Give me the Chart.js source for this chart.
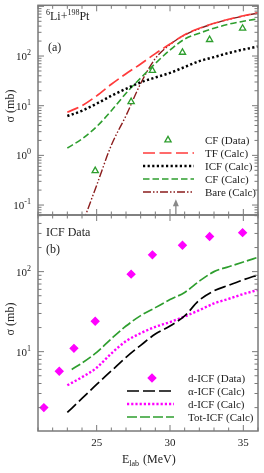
<!DOCTYPE html>
<html>
<head>
<meta charset="utf-8">
<script src="https://cdn.jsdelivr.net/npm/chart.js@4.4.1/dist/chart.umd.min.js"></script>
<style>
  html, body { margin: 0; padding: 0; background: #fff; }
  #wrap { position: relative; width: 264px; height: 473px; }
  canvas { position: absolute; left: 0; top: 0; }
</style>
</head>
<body>
<div id="wrap">
  <canvas id="topChart" width="264" height="473"></canvas>
  <canvas id="botChart" width="264" height="473"></canvas>
</div>
<script>
// energies (MeV) and cross sections (mb)
const eCalc = [23, 24, 25, 26, 27, 28, 29, 30, 31, 32, 33, 34, 35, 36];
const tfCalc = [7.4, 10, 15.8, 27, 44, 69, 112, 174, 269, 363, 457, 550, 646, 741];
const icfCalc = [6.2, 7.9, 11, 15.8, 21.9, 29.5, 37, 45.7, 60, 79, 95, 115, 135, 155];
const cfCalc = [1.41, 2.14, 3.8, 7.9, 17.8, 36, 71, 132, 219, 288, 363, 437, 501, 562];

const eBare = [24, 25, 26, 27, 28, 29, 30, 31, 32, 33, 34, 35, 36];
const bareCalc = [0.04, 0.25, 1.6, 6.3, 28, 89, 170, 265, 355, 450, 545, 640, 735];

const eCF = [24.9, 27.35, 28.8, 30.85, 32.7, 34.95];
const cfData = [0.49, 12, 51, 118, 213, 360];

const eICF = [21.4, 22.45, 23.45, 24.9, 27.35, 28.8, 30.85, 32.7, 34.95];
const dIcfData = [2.0, 5.7, 11, 24, 93, 162, 214, 274, 307];

const alphaIcfCalc = [1.74, 2.6, 3.9, 5.75, 8.5, 12, 16.6, 20.9, 28, 44, 57.5, 67.6, 79, 91];
const dIcfCalc = [3.8, 4.8, 6.3, 9.5, 13.5, 17, 20.4, 23.4, 27.5, 33, 40, 45.7, 52.5, 59];

const eTot = [23.3, 24, 25, 26, 27, 28, 29, 30, 31, 32, 33, 34, 35, 36];
const totIcfCalc = [6.0, 7.2, 9.8, 14.5, 20.9, 28.2, 35.5, 44.7, 55, 76, 100, 115, 132, 151];

const xTickLabels = [25, 30, 35];
const barrierE = 30.4;

const serif = '"Liberation Serif", "Times New Roman", serif';
const gray = '#7a7a7a';
const red = '#ff3b3b', green = '#2e9e2e', darkRed = '#8b1c1c', magenta = '#ff00ff';

function pts(xs, ys){ return xs.map((x, i) => ({ x, y: ys[i] })); }

function lineSet(label, xs, ys, color, dash, width){
  return { label, data: pts(xs, ys), borderColor: color, borderDash: dash, borderWidth: width || 1.6,
    pointRadius: 0, showLine: true, fill: false, cubicInterpolationMode: 'monotone' };
}
function pointSet(label, xs, ys, style, color, filled, r){
  return { label, data: pts(xs, ys), showLine: false, pointStyle: style, pointRadius: r,
    pointBorderColor: color, pointBackgroundColor: filled ? color : '#fff', pointBorderWidth: 1.3 };
}

function powLabel(ctx, exp, xr, y){
  const e = String(exp);
  ctx.font = '8px ' + serif;
  const ew = ctx.measureText(e).width;
  ctx.font = '11px ' + serif;
  const bw = ctx.measureText('10').width;
  ctx.textAlign = 'left'; ctx.textBaseline = 'middle';
  ctx.fillText('10', xr - ew - bw, y + 1);
  ctx.font = '8px ' + serif;
  ctx.fillText(e, xr - ew, y - 3);
}

// frame, inward ticks, labels and legend, drawn from the chart's own scales
const framePlugin = {
  id: 'frame',
  afterDraw(chart, args, o){
    const { ctx, chartArea: a, scales: { x, y } } = chart;
    ctx.save();
    ctx.strokeStyle = gray; ctx.lineWidth = 1.5;
    ctx.strokeRect(a.left, a.top, a.right - a.left, a.bottom - a.top);
    ctx.lineWidth = 1;
    ctx.beginPath();
    for (let v = Math.ceil(x.min); v <= x.max; v++){
      const px = x.getPixelForValue(v), len = v % 5 === 0 ? 6 : 3.5;
      ctx.moveTo(px, a.bottom); ctx.lineTo(px, a.bottom - len);
      ctx.moveTo(px, a.top); ctx.lineTo(px, a.top + len);
    }
    for (let k = -2; k <= 3; k++) for (let m = 1; m <= 9; m++){
      const v = m * Math.pow(10, k);
      if (v < y.min || v > y.max) continue;
      const py = y.getPixelForValue(v), len = m === 1 ? 6 : 3.5;
      ctx.moveTo(a.left, py); ctx.lineTo(a.left + len, py);
      ctx.moveTo(a.right, py); ctx.lineTo(a.right - len, py);
    }
    ctx.stroke();

    ctx.fillStyle = '#222';
    for (let k = -2; k <= 3; k++){
      const v = Math.pow(10, k);
      if (v < y.min || v > y.max) continue;
      const py = y.getPixelForValue(v);
      if (py < a.top + 5 || py > a.bottom - 5) continue;
      powLabel(ctx, k, 31, py);
    }

    // y title
    ctx.save();
    ctx.translate(11, o.yTitleY);
    ctx.rotate(-Math.PI / 2);
    ctx.font = '12px ' + serif; ctx.textAlign = 'center'; ctx.textBaseline = 'middle';
    ctx.fillText('σ (mb)', 0, 0);
    ctx.restore();

    if (o.xLabels){
      ctx.font = '11px ' + serif; ctx.textAlign = 'center'; ctx.textBaseline = 'middle';
      xTickLabels.forEach(v => ctx.fillText(String(v), x.getPixelForValue(v), a.bottom + 12));
      ctx.font = '12px ' + serif; ctx.textAlign = 'left'; ctx.textBaseline = 'alphabetic';
      let cx = 122; const by = a.bottom + 32;
      ctx.fillText('E', cx, by); cx += ctx.measureText('E').width;
      ctx.font = '8px ' + serif; ctx.fillText('lab', cx, by + 3); cx += ctx.measureText('lab').width + 1;
      ctx.font = '12px ' + serif; ctx.fillText(' (MeV)', cx, by);
    }

    // panel texts
    o.texts.forEach(t => {
      let cx = t.x;
      t.parts.forEach(p => {
        ctx.font = (p.sup ? '8px ' : '12px ') + serif;
        ctx.textAlign = 'left'; ctx.textBaseline = 'alphabetic';
        ctx.fillText(p.s, cx, t.y - (p.sup ? 5 : 0));
        cx += ctx.measureText(p.s).width;
      });
    });

    if (o.arrow){
      const px = x.getPixelForValue(o.arrow.x), tip = y.getPixelForValue(o.arrow.to);
      ctx.strokeStyle = '#888'; ctx.fillStyle = '#888'; ctx.lineWidth = 1.3; ctx.setLineDash([]);
      ctx.beginPath(); ctx.moveTo(px, a.bottom); ctx.lineTo(px, tip + 4); ctx.stroke();
      ctx.beginPath(); ctx.moveTo(px, tip); ctx.lineTo(px - 3, tip + 7); ctx.lineTo(px + 3, tip + 7); ctx.closePath(); ctx.fill();
    }

    // legend
    const L = o.legend;
    L.order.forEach((idx, i) => {
      const ds = chart.data.datasets[idx];
      const yy = L.y + i * L.dy;
      if (ds.showLine){
        ctx.strokeStyle = ds.borderColor; ctx.lineWidth = ds.borderWidth;
        ctx.setLineDash(ds.borderDash || []);
        ctx.beginPath(); ctx.moveTo(L.x0, yy); ctx.lineTo(L.x1, yy); ctx.stroke();
        ctx.setLineDash([]);
      } else {
        ctx.fillStyle = ds.pointBackgroundColor; ctx.strokeStyle = ds.pointBorderColor;
        ctx.lineWidth = ds.pointBorderWidth;
        Chart.helpers.drawPoint(ctx, { pointStyle: ds.pointStyle, radius: ds.pointRadius, borderWidth: ds.pointBorderWidth }, L.px, yy);
      }
      ctx.fillStyle = '#222'; ctx.font = '11px ' + serif;
      ctx.textAlign = 'left'; ctx.textBaseline = 'middle';
      ctx.fillText(ds.label, L.tx, yy + 1);
    });
    ctx.restore();
  }
};

function baseOptions(ymin, ymax, pad, frame){
  return {
    responsive: false, animation: false, devicePixelRatio: 1,
    layout: { padding: pad },
    scales: {
      x: { type: 'linear', min: 21, max: 36, display: false },
      y: { type: 'logarithmic', min: ymin, max: ymax, display: false }
    },
    plugins: { legend: { display: false }, tooltip: { enabled: false }, frame }
  };
}

new Chart(document.getElementById('topChart'), {
  type: 'scatter',
  data: { datasets: [
    pointSet('CF (Data)', eCF, cfData, 'triangle', green, false, 3.6),
    lineSet('TF (Calc)', eCalc, tfCalc, red, [12, 4.5], 1.7),
    lineSet('ICF (Calc)', eCalc, icfCalc, '#000', [2.2, 2.4], 2.5),
    lineSet('CF (Calc)', eCalc, cfCalc, green, [6.5, 3], 1.6),
    lineSet('Bare (Calc)', eBare, bareCalc, darkRed, [8, 2, 1.5, 2, 1.5, 2], 1.4)
  ]},
  options: baseOptions(0.063, 1050, { left: 38, right: 6, top: 1, bottom: 258 }, {
    yTitleY: 106,
    xLabels: false,
    texts: [
      { x: 46, y: 20, parts: [{ s: '6', sup: true }, { s: 'Li+' }, { s: '198', sup: true }, { s: 'Pt' }] },
      { x: 48, y: 51, parts: [{ s: '(a)' }] }
    ],
    arrow: { x: barrierE, to: 0.13 },
    legend: { order: [0, 1, 2, 3, 4], x0: 143, x1: 194, px: 168, tx: 205, y: 140, dy: 13 }
  }),
  plugins: [framePlugin]
});

new Chart(document.getElementById('botChart'), {
  type: 'scatter',
  data: { datasets: [
    pointSet('d-ICF (Data)', eICF, dIcfData, 'rectRot', magenta, true, 3.8),
    lineSet('α-ICF (Calc)', eCalc, alphaIcfCalc, '#000', [12, 4], 1.7),
    lineSet('d-ICF (Calc)', eCalc, dIcfCalc, magenta, [2.2, 2], 2.4),
    lineSet('Tot-ICF (Calc)', eTot, totIcfCalc, green, [10, 3], 1.7)
  ]},
  options: baseOptions(1.02, 510, { left: 38, right: 6, top: 215, bottom: 42 }, {
    yTitleY: 319,
    xLabels: true,
    texts: [
      { x: 46, y: 236, parts: [{ s: 'ICF Data' }] },
      { x: 46, y: 253, parts: [{ s: '(b)' }] }
    ],
    arrow: null,
    legend: { order: [0, 1, 2, 3], x0: 127, x1: 174, px: 152, tx: 188, y: 378, dy: 13 }
  }),
  plugins: [framePlugin]
});
</script>
</body>
</html>
